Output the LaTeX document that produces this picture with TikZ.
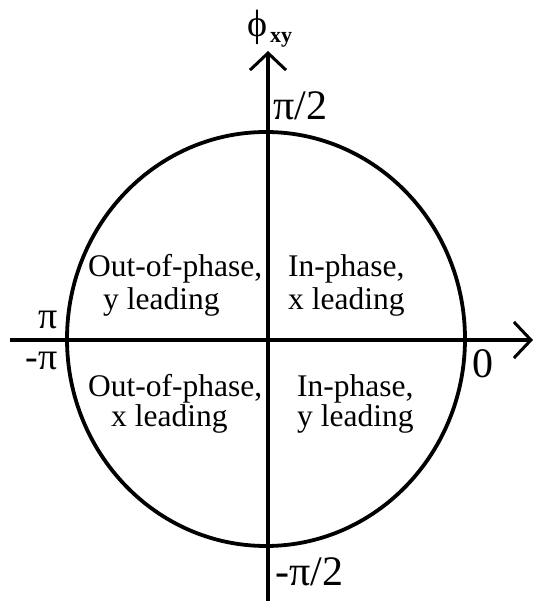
\documentclass[tikz,border=0pt]{standalone}
\usepackage{fontspec}
\setmainfont{Liberation Serif}
\usetikzlibrary{arrows.meta}
\begin{document}
\begin{tikzpicture}[x=1pt,y=-1pt,
  axis/.style={line width=3.6pt,-{Straight Barb[length=17pt,width=36pt,line width=3pt]}},
  rim/.style={line width=3.8pt},
  quad/.style={inner sep=0pt,anchor=base west,font=\fontsize{31.5}{34}\selectfont},
  lab/.style={inner sep=0pt,font=\fontsize{42}{44}\selectfont},
  pilab/.style={inner sep=0pt,font=\fontsize{38}{40}\selectfont}]
\useasboundingbox (0,0) rectangle (535,601);
\coordinate (c) at (266,339);
\coordinate (xl) at (10,340);
\coordinate (xr) at (533,340);
\coordinate (yb) at (268,601);
\coordinate (yt) at (268,51);
\draw[rim] (c) ellipse [x radius=199, y radius=207];
\draw[axis] (xl) -- (xr);
\draw[axis] (yb) -- (yt);
% axis title
\node[inner sep=0pt,font=\fontsize{38}{40}\selectfont] (phi) at (257,27) {ϕ};
\node[inner sep=0pt,anchor=base west,font=\fontsize{22}{24}\selectfont\bfseries] (phisub) at (270,43) {xy};
% axis labels
\node[lab,anchor=base west] (top) at (273,120) {π/2};
\node[lab,anchor=base west] (bot) at (275,585) {-π/2};
\node[pilab,anchor=base east] (lp) at (58,328) {π};
\node[pilab,anchor=base east] (lm) at (58,369) {-π};
\node[lab,anchor=base west] (zero) at (472,377) {0};
% quadrant texts
\node[quad] (ul1) at (88,276) {Out-of-phase,};
\node[quad] (ul2) at (103,309) {y leading};
\node[quad] (ur1) at (288,276) {In-phase,};
\node[quad] (ur2) at (288,309) {x leading};
\node[quad] (ll1) at (88,396) {Out-of-phase,};
\node[quad] (ll2) at (111,426) {x leading};
\node[quad] (lr1) at (297,396) {In-phase,};
\node[quad] (lr2) at (297,426) {y leading};
\end{tikzpicture}
\end{document}
